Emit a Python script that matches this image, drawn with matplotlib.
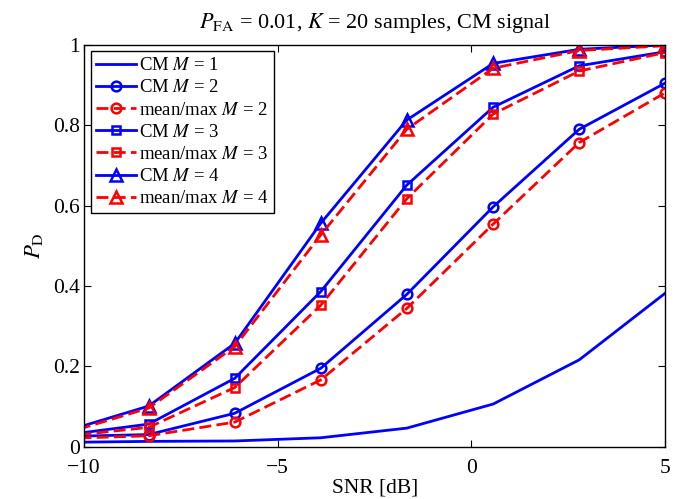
import numpy as np
import matplotlib
matplotlib.use('Agg')
import matplotlib.pyplot as plt

plt.rcParams['font.family'] = ['Liberation Serif', 'DejaVu Serif']
plt.rcParams['mathtext.fontset'] = 'stix'

# SNR grid (first point lies just left of the visible range and is clipped)
snr = [-10.56, -8.33, -6.11, -3.89, -1.67, 0.56, 2.78, 5.0]

cm_m1 = [0.0105, 0.013, 0.014, 0.022, 0.046, 0.106, 0.216, 0.382]
cm_m2 = [0.025, 0.030, 0.083, 0.195, 0.379, 0.597, 0.790, 0.905]
mm_m2 = [0.020, 0.027, 0.061, 0.166, 0.344, 0.554, 0.757, 0.881]
cm_m3 = [0.028, 0.056, 0.170, 0.386, 0.651, 0.845, 0.948, 0.983]
mm_m3 = [0.025, 0.048, 0.147, 0.352, 0.617, 0.828, 0.935, 0.981]
cm_m4 = [0.036, 0.101, 0.257, 0.556, 0.813, 0.954, 0.989, 1.000]
mm_m4 = [0.031, 0.096, 0.249, 0.527, 0.790, 0.942, 0.986, 0.998]

series = [
    (cm_m1, 'CM $M$ = 1', 'b', '-', None),
    (cm_m2, 'CM $M$ = 2', 'b', '-', 'o'),
    (mm_m2, 'mean/max $M$ = 2', 'r', '--', 'o'),
    (cm_m3, 'CM $M$ = 3', 'b', '-', 's'),
    (mm_m3, 'mean/max $M$ = 3', 'r', '--', 's'),
    (cm_m4, 'CM $M$ = 4', 'b', '-', '^'),
    (mm_m4, 'mean/max $M$ = 4', 'r', '--', '^'),
]
msizes = {'o': 7, 's': 6, '^': 8, None: 6}

fig = plt.figure(figsize=(6.83, 4.99), dpi=100)
ax = fig.add_axes([0.123, 0.105, 0.851, 0.805])

for y, lab, col, ls, mk in series:
    kw = dict(color=col, lw=2, marker=mk, ms=msizes[mk], mfc='none',
              mew=1.8, label=lab)
    if ls == '--':
        ax.plot(snr, y, dashes=(4.3, 1.9), **kw)
    else:
        ax.plot(snr, y, ls='-', **kw)

ax.set_xlim(-10, 5)
ax.set_ylim(0, 1)
ax.set_xticks([-10, -5, 0, 5])
ax.set_xticklabels(['\u221210', '\u22125', '0', '5'])
ax.set_yticks([0, 0.2, 0.4, 0.6, 0.8, 1])
ax.set_yticklabels(['0', '0.2', '0.4', '0.6', '0.8', '1'])
ax.tick_params(direction='in', top=True, right=True, length=5, labelsize=15.5,
               width=0.8)
ax.tick_params(axis='x', pad=9)
ax.tick_params(axis='y', pad=3)
for sp in ax.spines.values():
    sp.set_linewidth(1.0)

ax.set_xlabel('SNR [dB]', fontsize=15.5, labelpad=0)
ax.set_ylabel(r'$P_{\rm D}$', fontsize=16.5, labelpad=6)
ax.set_title(r'$P_{\rm FA}$ = 0.01, $K$ = 20 samples, CM signal',
             fontsize=16, pad=12)

leg = ax.legend(loc='upper left', fontsize=13.5, frameon=True, fancybox=False,
                edgecolor='k', framealpha=1, borderaxespad=0.35,
                handlelength=2.1, handletextpad=0.2, labelspacing=0.27,
                borderpad=0.3)
leg.get_frame().set_linewidth(1.0)

fig.savefig('out.png', dpi=100)
